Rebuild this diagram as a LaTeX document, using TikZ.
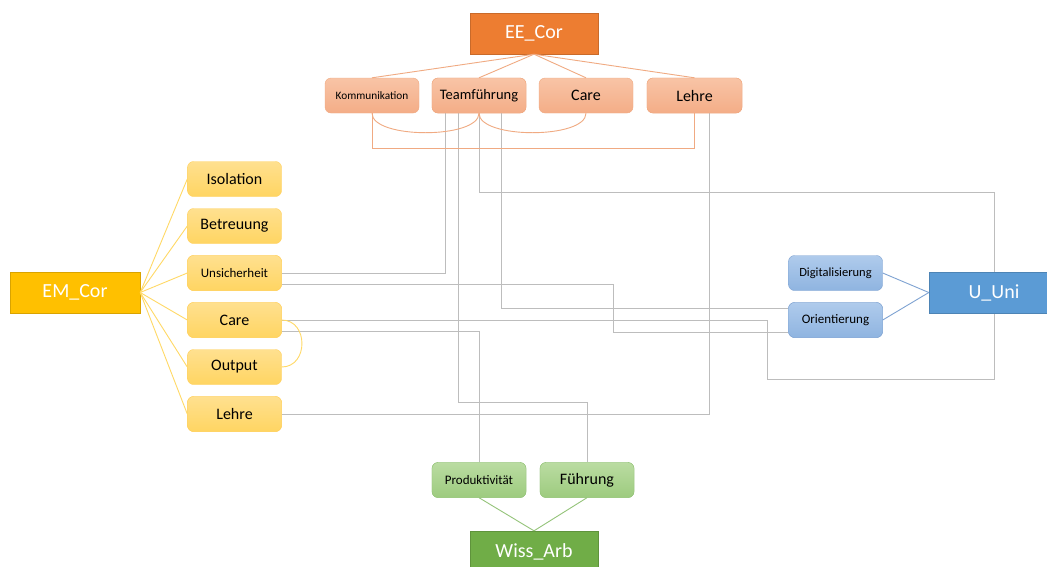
\documentclass[tikz,border=0pt]{standalone}
\usepackage{fontspec}
\setmainfont{Carlito}
\definecolor{eeMain}{HTML}{ED7D31}
\definecolor{eeTop}{HTML}{F8C4A6}
\definecolor{eeBot}{HTML}{F4AD87}
\definecolor{eeLine}{HTML}{F0AA82}
\definecolor{emMain}{HTML}{FFC000}
\definecolor{emTop}{HTML}{FFE08F}
\definecolor{emBot}{HTML}{FFD562}
\definecolor{emLine}{HTML}{FFD966}
\definecolor{uMain}{HTML}{5B9BD5}
\definecolor{uTop}{HTML}{AFCBEC}
\definecolor{uBot}{HTML}{8FB4E0}
\definecolor{uLine}{HTML}{7FA3D2}
\definecolor{wMain}{HTML}{70AD47}
\definecolor{wTop}{HTML}{BADCA2}
\definecolor{wBot}{HTML}{9DCB7E}
\definecolor{wLine}{HTML}{95C47A}
\definecolor{grayLine}{HTML}{BDBDBD}
\tikzset{
  mainbox/.style={draw=#1!85!black, fill=#1, text=white, minimum width=128pt, minimum height=41pt, inner sep=0pt, font=\fontsize{20}{24}\selectfont},
  subbox/.style={rounded corners=6pt, minimum width=94pt, minimum height=35pt, inner sep=0pt, font=\fontsize{16}{19}\selectfont},
  eesub/.style={subbox, draw=eeLine, top color=eeTop, bottom color=eeBot},
  emsub/.style={subbox, draw=emLine!90!orange, top color=emTop, bottom color=emBot},
  usub/.style={subbox, draw=uLine, top color=uTop, bottom color=uBot},
  wsub/.style={subbox, draw=wLine, top color=wTop, bottom color=wBot},
  grayconn/.style={draw=grayLine, line width=1pt},
  eeconn/.style={draw=eeLine, line width=0.9pt},
  emconn/.style={draw=emLine, line width=0.9pt},
  uconn/.style={draw=uLine, line width=0.9pt},
  wconn/.style={draw=wLine, line width=0.9pt},
}
\begin{document}
\begin{tikzpicture}[x=1pt,y=-1pt]
\useasboundingbox (0,0) rectangle (1047,566);
\fill[white] (0,0) rectangle (1047,566);

% nodes used by the gray cross connectors (drawn first, below boxes)
\node[eesub, minimum width=94pt] (tf) at (479,95.5) {};
\node[emsub] (uns) at (234.5,273) {};
\node[emsub] (care2) at (234.5,320) {};
\node[emsub] (lehre2) at (234.5,414) {};
\node[usub] (ori) at (835.5,320) {};
\node[wsub] (prod) at (479,480) {};
\node[wsub] (fuh) at (587,480) {};
\node[mainbox=uMain, minimum width=130pt] (uuni) at (994,292.5) {};
\node[eesub, minimum width=95pt] (lehre1) at (694.5,95.5) {};

\draw[grayconn] (uns.east) -| ([xshift=-34pt]tf.south);
\draw[grayconn] ([yshift=-11pt]uns.east) -| (613,332) -- ([yshift=-12pt]ori.west);
\draw[grayconn] ([xshift=-21pt]tf.south) |- ([yshift=60pt]fuh.north) -- (fuh.north);
\draw[grayconn] (tf.south) |- ([yshift=79pt]uuni.north) -- (uuni.north);
\draw[grayconn] ([xshift=22pt]tf.south) |- ([yshift=12pt]ori.west);
\draw[grayconn] (lehre2.east) -| ([xshift=14.5pt]lehre1.south);
\draw[grayconn] (care2.east) -| (767,379) -| (uuni.south);
\draw[grayconn] ([yshift=-11pt]care2.east) -| (prod.north);

% EE_Cor group
\node[mainbox=eeMain] (ee) at (534,33.5) {EE\_Cor};
\node[eesub, font=\fontsize{11.3}{13}\selectfont] (kom) at (372,95.5) {Kommunikation};
\node[eesub, font=\fontsize{14.5}{17}\selectfont] at (tf) {Teamführung};
\node[eesub] (care1) at (586,95.5) {Care};
\node[eesub, minimum width=95pt] at (lehre1) {Lehre};
\foreach \c in {kom,tf,care1,lehre1} \draw[eeconn] (ee.south) -- (\c.north);
\draw[eeconn] (kom.south) .. controls +(0,26) and +(0,26) .. (tf.south);
\draw[eeconn] (tf.south) .. controls +(0,26) and +(0,26) .. (care1.south);
\draw[eeconn] (kom.south) -- ++(0,35) -| (lehre1.south);

% EM_Cor group
\node[mainbox=emMain, minimum width=130pt] (em) at (75,292.5) {EM\_Cor};
\node[emsub] (iso) at (234.5,179) {Isolation};
\node[emsub] (bet) at (234.5,226) {Betreuung};
\node[emsub, font=\fontsize{13}{15}\selectfont] at (uns) {Unsicherheit};
\node[emsub] at (care2) {Care};
\node[emsub] (out) at (234.5,367) {Output};
\node[emsub] at (lehre2) {Lehre};
\foreach \c in {iso,bet,uns,care2,out,lehre2} \draw[emconn] (em.east) -- (\c.west);
\draw[emconn] (care2.east) .. controls +(27,0) and +(27,0) .. (out.east);

% U_Uni group
\node[mainbox=uMain, minimum width=130pt] at (uuni) {U\_Uni};
\node[usub, font=\fontsize{12.5}{15}\selectfont] (dig) at (835.5,273) {Digitalisierung};
\node[usub, font=\fontsize{13}{15}\selectfont] at (ori) {Orientierung};
\draw[uconn] (dig.east) -- (uuni.west);
\draw[uconn] (ori.east) -- (uuni.west);

% Wiss_Arb group
\node[mainbox=wMain] (wiss) at (534,551.5) {Wiss\_Arb};
\node[wsub, font=\fontsize{13}{15}\selectfont] at (prod) {Produktivität};
\node[wsub] at (fuh) {Führung};
\draw[wconn] (prod.south) -- (wiss.north);
\draw[wconn] (fuh.south) -- (wiss.north);
\end{tikzpicture}
\end{document}
